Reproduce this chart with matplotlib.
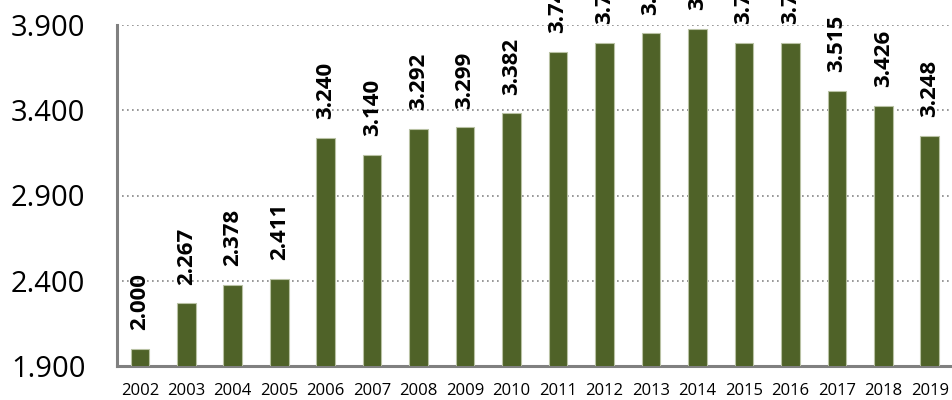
import matplotlib
matplotlib.use("Agg")
import matplotlib.pyplot as plt

years = ["2002", "2003", "2004", "2005", "2006", "2007", "2008", "2009", "2010",
         "2011", "2012", "2013", "2014", "2015", "2016", "2017", "2018", "2019"]
values = [2.000, 2.267, 2.378, 2.411, 3.240, 3.140, 3.292, 3.299, 3.382,
          3.741, 3.794, 3.851, 3.878, 3.794, 3.793, 3.515, 3.426, 3.248]
yticks = [1.9, 2.4, 2.9, 3.4, 3.9]
ytick_labels = ["1.900", "2.400", "2.900", "3.400", "3.900"]

FONT = ["Open Sans", "DejaVu Sans"]

fig = plt.figure(figsize=(9.52, 4.0), dpi=100)
ax = fig.add_axes([116.6 / 952, 34 / 400, (953 - 116.6) / 952, 341 / 400])

x = list(range(len(years)))
ax.bar(x, values, width=0.4, color="#4F6228", edgecolor="#B9C2A4", linewidth=0.8, zorder=3)

ax.set_xlim(-0.5, len(years) - 0.5)
ax.set_ylim(1.9, 3.9)
ax.set_yticks(yticks)
ax.set_yticklabels(ytick_labels, fontsize=21, family=FONT, color="#000000")
ax.set_xticks(x)
ax.set_xticklabels(years, fontsize=12, family=FONT, color="#000000")
ax.tick_params(axis="y", length=0, pad=22.5)
ax.tick_params(axis="x", length=0, pad=12)

ax.grid(axis="y", linestyle=(0, (1, 2)), color="#868686", linewidth=1.2, zorder=0)
ax.set_axisbelow(True)
for s in ["top", "right"]:
    ax.spines[s].set_visible(False)
for s in ["left", "bottom"]:
    ax.spines[s].set_color("#808080")
    ax.spines[s].set_linewidth(2.2)

for xi, v in zip(x, values):
    ax.annotate(f"{v:.3f}", xy=(xi, v), xytext=(0, 13.5), textcoords="offset points",
                rotation=90, ha="center", va="bottom", fontsize=16, fontweight="bold",
                family=FONT, color="#000000", annotation_clip=False, clip_on=False)

fig.savefig("out.png", dpi=100)
